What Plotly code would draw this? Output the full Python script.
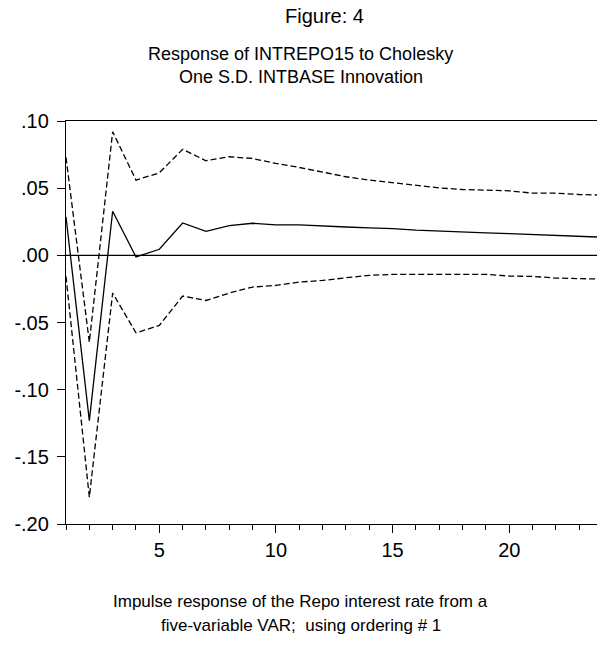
import plotly.graph_objects as go

# Impulse response of INTREPO15 to a one S.D. INTBASE shock, with +/- 2 S.E. bands
periods = list(range(1, 25))
response = [0.0286, -0.123, 0.0328, -0.0012, 0.0045, 0.0241, 0.0179, 0.0221,
            0.0239, 0.0226, 0.0226, 0.0221, 0.0211, 0.0204, 0.0199, 0.0187,
            0.0179, 0.0172, 0.0167, 0.0162, 0.0154, 0.0149, 0.0142, 0.0135]
upper = [0.0729, -0.0647, 0.092, 0.056, 0.0614, 0.0789, 0.0704, 0.0734,
         0.0721, 0.0684, 0.0654, 0.0622, 0.0585, 0.056, 0.0540, 0.0517,
         0.0502, 0.049, 0.0485, 0.048, 0.0463, 0.0463, 0.0453, 0.0448]
lower = [-0.0157, -0.180, -0.0281, -0.0577, -0.0522, -0.0303, -0.0336, -0.0281,
         -0.0236, -0.0224, -0.0199, -0.0187, -0.0167, -0.0149, -0.0142, -0.0142,
         -0.0142, -0.0142, -0.0142, -0.0154, -0.0157, -0.0169, -0.0174, -0.0177]

y_tickvals = [0.10, 0.05, 0.0, -0.05, -0.10, -0.15, -0.20]
y_ticktext = [".10", ".05", ".00", "-.05", "-.10", "-.15", "-.20"]
x_tickvals = [5, 10, 15, 20]

FONT = "Liberation Sans, Arial, sans-serif"
W, H = 597, 646
L, R, T, B = 66, 0, 121, 122
PW, PH = W - L - R, H - T - B


def px_to_paper(xp, yp):
    return (xp - L) / PW, (H - B - yp) / PH


fig = go.Figure()
fig.add_trace(go.Scatter(x=periods, y=upper, mode="lines",
                         line=dict(color="black", width=1.3, dash="6px,3px")))
fig.add_trace(go.Scatter(x=periods, y=lower, mode="lines",
                         line=dict(color="black", width=1.3, dash="6px,3px")))
fig.add_trace(go.Scatter(x=periods, y=response, mode="lines",
                         line=dict(color="black", width=1.3)))

# zero reference line
fig.add_hline(y=0, line=dict(color="black", width=1.3))

fig.update_xaxes(
    range=[1, 1 + PW / 23.33], showgrid=False, zeroline=False,
    showline=True, linecolor="black", linewidth=1.3, mirror=True,
    tickmode="array", tickvals=x_tickvals, ticks="outside", ticklen=8,
    tickwidth=1.3, tickcolor="black",
    minor=dict(dtick=1, tick0=1, ticks="outside", ticklen=5, tickwidth=1.3,
               tickcolor="black", showgrid=False),
    tickfont=dict(family=FONT, size=20, color="black"),
)
fig.update_yaxes(
    range=[-0.20, 0.10], showgrid=False, zeroline=False,
    showline=True, linecolor="black", linewidth=1.3, mirror=False,
    tickmode="array", tickvals=y_tickvals, ticktext=y_ticktext,
    ticks="outside", ticklen=8, tickwidth=1.3, tickcolor="black",
    ticklabelstandoff=4,
    tickfont=dict(family=FONT, size=20, color="black"),
)

annotations = []
for text, xp, yp, size in [
    ("Figure: 4", 324, 16, 20),
    ("Response of INTREPO15 to Cholesky", 300, 54, 18),
    ("One S.D. INTBASE Innovation", 301, 77, 18),
    ("Impulse response of the Repo interest rate from a", 300, 601, 17),
    ("five-variable VAR;&nbsp; using ordering # 1", 301, 625, 17),
]:
    ax, ay = px_to_paper(xp, yp)
    annotations.append(dict(text=text, x=ax, y=ay, xref="paper", yref="paper",
                            xanchor="center", yanchor="middle", showarrow=False,
                            font=dict(family=FONT, size=size, color="black")))

fig.update_layout(
    width=W, height=H, margin=dict(l=L, r=R, t=T, b=B, pad=0),
    paper_bgcolor="white", plot_bgcolor="white", showlegend=False,
    annotations=annotations,
)

fig.write_html("out.html")
